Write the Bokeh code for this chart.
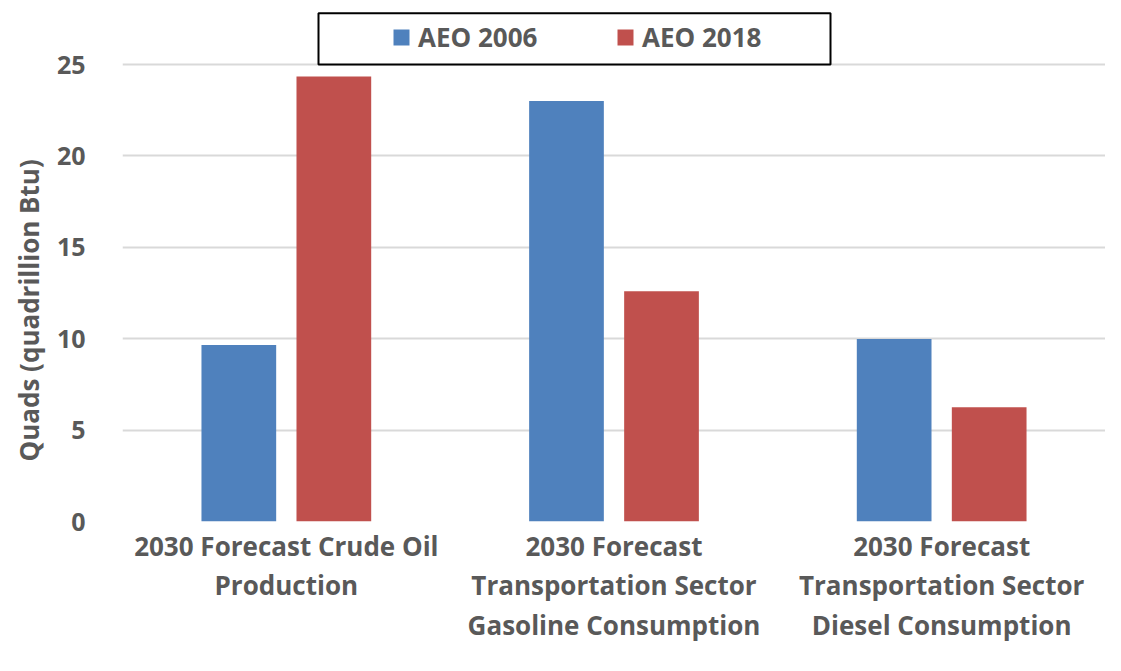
from bokeh.plotting import figure
from bokeh.models import (FactorRange, Legend, LegendItem, BoxAnnotation, FixedTicker,
                          ColumnDataSource, Title)
from bokeh.transform import dodge
from bokeh.embed import file_html
from bokeh.resources import INLINE

categories = [
    "2030 Forecast Crude Oil\nProduction",
    "2030 Forecast\nTransportation Sector\nGasoline Consumption",
    "2030 Forecast\nTransportation Sector\nDiesel Consumption",
]
aeo2006 = [9.65, 23.0, 9.98]
aeo2018 = [24.35, 12.6, 6.25]
series_names = ["AEO 2006", "AEO 2018"]
y_ticks = [0, 5, 10, 15, 20, 25]
y_title = "Quads (quadrillion Btu)"

BLUE = "#4F81BD"
RED = "#C0504D"
TXT = "#595959"
FONT = "Open Sans"

src = ColumnDataSource(dict(cat=categories, a=aeo2006, b=aeo2018))

p = figure(
    x_range=FactorRange(*categories, range_padding=0.0),
    y_range=(0, 27.9),
    width=1105, height=655,
    output_backend="svg", toolbar_location=None,
    min_border_left=122, min_border_right=0, min_border_top=11, min_border_bottom=134,
)
p.outline_line_color = None
p.background_fill_color = "white"
p.border_fill_color = "white"

r1 = p.vbar(x=dodge("cat", -0.145, range=p.x_range), top="a", width=0.228,
            source=src, fill_color=BLUE, line_color=None)
r2 = p.vbar(x=dodge("cat", 0.145, range=p.x_range), top="b", width=0.228,
            source=src, fill_color=RED, line_color=None)

# axes
p.xaxis.axis_line_color = None
p.xaxis.major_tick_line_color = None
p.xaxis.minor_tick_line_color = None
p.xaxis.major_label_text_font = FONT
p.xaxis.major_label_text_font_style = "bold"
p.xaxis.major_label_text_font_size = "26px"
p.xaxis.major_label_text_color = TXT
p.xaxis.major_label_text_line_height = 1.1
p.xaxis.major_label_standoff = 0

p.yaxis.ticker = FixedTicker(ticks=y_ticks)
p.yaxis.axis_line_color = None
p.yaxis.major_tick_line_color = None
p.yaxis.minor_tick_line_color = None
p.yaxis.major_label_text_font = FONT
p.yaxis.major_label_text_font_style = "bold"
p.yaxis.major_label_text_font_size = "25px"
p.yaxis.major_label_text_color = TXT
p.yaxis.major_label_standoff = 31

# y-axis title, positioned along the plotted 0-25 span
ytitle = Title(text=y_title, align="left", offset=60, standoff=14,
               text_font=FONT, text_font_style="bold", text_font_size="26px",
               text_color=TXT)
p.add_layout(ytitle, "left")

p.xgrid.grid_line_color = None
p.ygrid.grid_line_color = "#D9D9D9"
p.ygrid.grid_line_width = 2

# legend frame box
box = BoxAnnotation(left=318, right=830, left_units="canvas", right_units="canvas",
                    top=27.8, bottom=25.0,
                    fill_color="white", fill_alpha=1.0,
                    line_color="black", line_alpha=1.0, line_width=2, level="annotation")
p.add_layout(box)

legend = Legend(
    items=[LegendItem(label=series_names[0], renderers=[r1]),
           LegendItem(label=series_names[1], renderers=[r2])],
    orientation="horizontal",
    location=(269, 466),
    padding=5, margin=0, spacing=71,
    glyph_width=20, glyph_height=20, label_standoff=7,
    label_width=126, label_height=30,
    label_text_font=FONT, label_text_font_style="bold",
    label_text_font_size="26px", label_text_color=TXT,
    border_line_color=None, background_fill_alpha=0,
)
p.add_layout(legend, "center")

open("out.html", "w").write(file_html(p, INLINE))
